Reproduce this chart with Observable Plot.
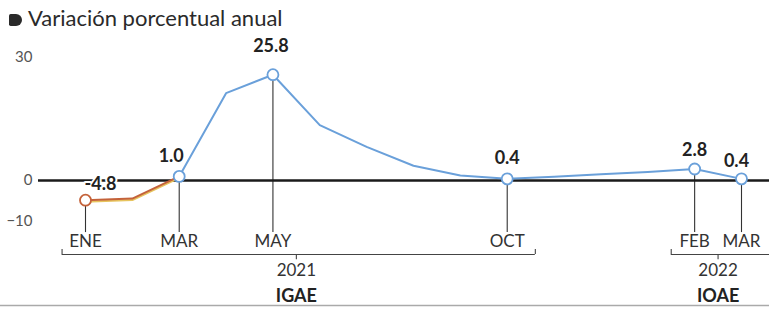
<!DOCTYPE html>
<html>
<head>
<meta charset="utf-8">
<script src="https://cdn.jsdelivr.net/npm/d3@7"></script>
<script src="https://cdn.jsdelivr.net/npm/@observablehq/plot@0.6"></script>
<style>
  html, body { margin: 0; padding: 0; background: #fff; }
  #title { height: 30px; box-sizing: border-box; padding: 5px 0 0 9px; font-family: Lato, "Open Sans", sans-serif; font-size: 22px; color: #2a2a2a; line-height: 25px; overflow: visible; }
  #title .bullet { display: inline-block; width: 13px; height: 12px; background: #2a2a2a; border-radius: 2px 7px 7px 2px; margin-right: 6px; vertical-align: 0px; }
  svg text { font-family: Lato, "Open Sans", sans-serif; }
</style>
</head>
<body>
<div id="title"><span class="bullet"></span>Variación porcentual anual</div>
<div id="chart"></div>
<script>
const months = ["ENE","FEB","MAR","ABR","MAY","JUN","JUL","AGO","SEP","OCT","NOV","DIC","ENE","FEB","MAR"];
const values = [-4.8, -4.4, 1.0, 21.3, 25.8, 13.5, 8.2, 3.6, 1.2, 0.4, 0.9, 1.5, 2.1, 2.8, 0.4];
const orangeIdx = [0, 1, 2];
const blueIdx = [2, 3, 4, 5, 6, 7, 8, 9, 10, 11, 12, 13, 14];
const labeledIdx = [0, 2, 4, 9, 13, 14];
const valueLabels = ["-4.8", "1.0", "25.8", "0.4", "2.8", "0.4"];
const yTicks = [30, 0, -10];
const years = [{year: "2021", index: "IGAE", from: 0, to: 9}, {year: "2022", index: "IOAE", from: 13, to: 14}];

const pts = values.map((v, i) => ({i, v, m: months[i]}));
const orange = orangeIdx.map(i => pts[i]);
const blue = blueIdx.map(i => pts[i]);
const labeled = labeledIdx.map((i, k) => ({...pts[i], label: valueLabels[k]}));

const labelDx = [15, -8, -2, 0, 0, -5];
const labelDy = [-16, -20, -28, -21, -19, -18];

const brY = -18.05, capY = -16.8, midY = -19.3;
const brackets = years.map(y => ({...y, x1: y.from - 0.5, x2: y.to + 0.6, mid: (y.from - 0.5 + y.to + 0.5) / 2}));

const chart = Plot.plot({
  width: 769,
  height: 279,
  marginLeft: 38,
  marginRight: 0,
  marginTop: 0,
  marginBottom: 0,
  x: {domain: [0, 14], range: [85, 741], axis: null},
  y: {domain: [-10, 30], range: [191, 27], axis: null},
  marks: [
    Plot.ruleY([-30.5], {x1: -2, x2: 15, stroke: "#aaa", strokeWidth: 1.5}),
    Plot.ruleX(labeled, {x: "i", y1: "v", y2: -12.7, stroke: "#333", strokeWidth: 1.1}),
    Plot.ruleY([0], {stroke: "#1a1a1a", strokeWidth: 2.6}),
    Plot.axisY({ticks: yTicks, tickSize: 0, tickPadding: 6, fontSize: 15, color: "#555", anchor: "left", label: null}),
    Plot.line(orange, {x: "i", y: "v", stroke: "#e7c45e", strokeWidth: 2, dy: 1.5}),
    Plot.line(orange, {x: "i", y: "v", stroke: "#c4623a", strokeWidth: 2}),
    Plot.line(blue, {x: "i", y: "v", stroke: "#6aa0da", strokeWidth: 2}),
    Plot.dot(labeled.filter(d => d.i !== 0), {x: "i", y: "v", r: 5.5, fill: "white", stroke: "#6aa0da", strokeWidth: 1.8}),
    Plot.dot(labeled.filter(d => d.i === 0), {x: "i", y: "v", r: 5.5, fill: "white", stroke: "#c4623a", strokeWidth: 1.8}),
    ...labeled.map((d, k) => Plot.text([d], {x: "i", y: "v", text: "label", dx: labelDx[k], dy: labelDy[k], fontSize: 18, fontWeight: "bold", fill: "#222", stroke: "white", strokeWidth: 4, paintOrder: "stroke"})),
    Plot.text(labeled, {x: "i", y: -14.9, text: "m", fontSize: 17, fill: "#333"}),
    Plot.ruleY(brackets, {x1: "x1", x2: "x2", y: brY, stroke: "#444", strokeWidth: 1.1}),
    Plot.ruleX(brackets, {x: "x1", y1: brY, y2: capY, stroke: "#444", strokeWidth: 1.1}),
    Plot.ruleX(brackets, {x: "x2", y1: brY, y2: capY, stroke: "#444", strokeWidth: 1.1}),
    Plot.ruleX(brackets, {x: "mid", y1: brY, y2: midY, stroke: "#444", strokeWidth: 1.1}),
    Plot.text(brackets, {x: "mid", y: -21.95, text: "year", fontSize: 17, fill: "#333"}),
    Plot.text(brackets, {x: "mid", y: -28.3, text: "index", fontSize: 18, fontWeight: "bold", fill: "#222"})
  ]
});
document.getElementById("chart").appendChild(chart);
</script>
</body>
</html>
